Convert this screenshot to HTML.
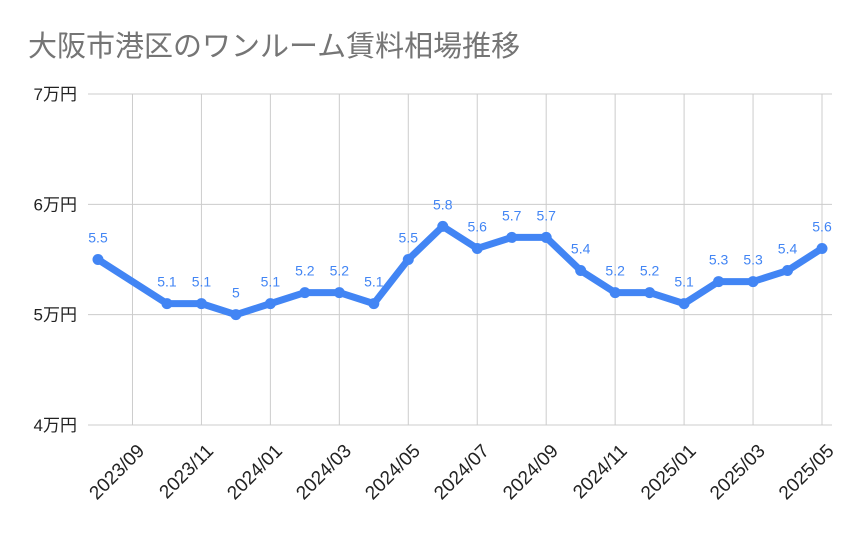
<!DOCTYPE html>
<html><head><meta charset="utf-8"><style>
body{margin:0;background:#fff;}
svg text{font-family:"Liberation Sans","Noto Sans CJK JP",sans-serif;}
</style></head><body>
<svg width="859" height="531" viewBox="0 0 859 531" xmlns="http://www.w3.org/2000/svg">
<rect width="859" height="531" fill="#fff"/>
<text x="28" y="56" font-size="29" fill="#757575">大阪市港区のワンルーム賃料相場推移</text>
<g id="grid"></g><g id="series"></g><g id="labels"></g>
</svg>
<script>
const categories=["2023/08","2023/09","2023/10","2023/11","2023/12","2024/01","2024/02","2024/03","2024/04","2024/05","2024/06","2024/07","2024/08","2024/09","2024/10","2024/11","2024/12","2025/01","2025/02","2025/03","2025/04","2025/05"];
const values=[5.5,null,5.1,5.1,5,5.1,5.2,5.2,5.1,5.5,5.8,5.6,5.7,5.7,5.4,5.2,5.2,5.1,5.3,5.3,5.4,5.6];
const yTicks=[4,5,6,7];
const yTickLabels=["4万円","5万円","6万円","7万円"];
const xTickLabels=["2023/09","2023/11","2024/01","2024/03","2024/05","2024/07","2024/09","2024/11","2025/01","2025/03","2025/05"];
const NS="http://www.w3.org/2000/svg";
const x0=98,x1=822,yTop=94,yBot=425,yMin=4,yMax=7;
const xs=i=>x0+(x1-x0)*i/(categories.length-1);
const ys=v=>yBot-(v-yMin)/(yMax-yMin)*(yBot-yTop);
function mk(t,a,p){const e=document.createElementNS(NS,t);for(const k in a)e.setAttribute(k,a[k]);p.appendChild(e);return e;}
const grid=document.getElementById('grid'),ser=document.getElementById('series'),lab=document.getElementById('labels');
yTicks.forEach((v,i)=>{
 const l=mk('line',{x1:88,x2:832,y1:ys(v),y2:ys(v),stroke:'#cccccc','stroke-width':1},grid);
 
 
 const t=mk('text',{x:77,y:ys(v)+6,'text-anchor':'end','font-size':17,fill:'#222'},grid);
 t.textContent=yTickLabels[i];
 
 
});
xTickLabels.forEach(lbl=>{
 const i=categories.indexOf(lbl);const x=xs(i);
 const l=mk('line',{x1:x,x2:x,y1:yTop,y2:yBot,stroke:'#cccccc','stroke-width':1},grid);
 
 
 const t=mk('text',{x:x+13,y:452,'text-anchor':'end','font-size':19,fill:'#222',transform:`rotate(-45 ${x+13} 452)`},grid);
 t.textContent=lbl;
 
 
});
const pts=[];values.forEach((v,i)=>{if(v!==null)pts.push([xs(i),ys(v),v]);});
const pl=mk('polyline',{points:pts.map(p=>p[0]+','+p[1]).join(' '),fill:'none',stroke:'#4285f4','stroke-width':7,'stroke-linejoin':'round','stroke-linecap':'round'},ser);


pts.forEach(p=>{
 const c=mk('circle',{cx:p[0],cy:p[1],r:5.5,fill:'#4285f4'},ser);
 
 
 const t=mk('text',{x:p[0],y:p[1]-17,'text-anchor':'middle','font-size':14,fill:'#4285f4'},lab);
 t.textContent=String(p[2]);
 
 
});
</script>
</body></html>
